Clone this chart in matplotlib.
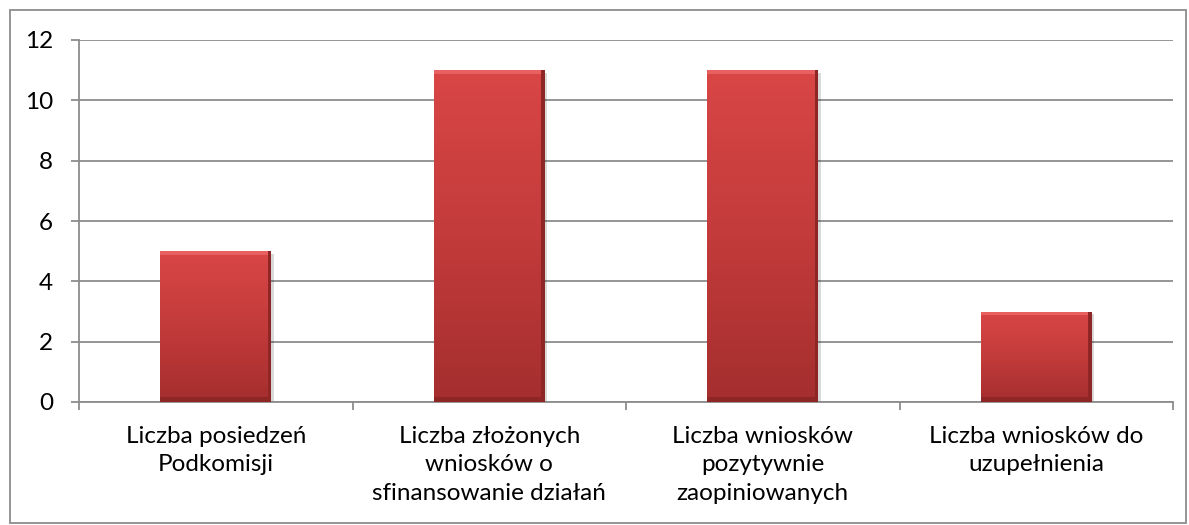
import matplotlib.pyplot as plt
import numpy as np
from matplotlib.colors import LinearSegmentedColormap
from matplotlib.patches import Rectangle

categories = ['Liczba posiedzeń\nPodkomisji',
              'Liczba złożonych\nwniosków o\nsfinansowanie działań',
              'Liczba wniosków\npozytywnie\nzaopiniowanych',
              'Liczba wniosków do\nuzupełnienia']
values = [5, 11, 11, 3]
yticks = [0, 2, 4, 6, 8, 10, 12]

plt.rcParams['font.family'] = ['Lato', 'DejaVu Sans']

fig = plt.figure(figsize=(11.89, 5.25), dpi=100)
ax = fig.add_axes([79 / 1189, 1 - 402 / 525, (1173 - 79) / 1189, (402 - 40) / 525])

# outer frame
fig.patches.append(Rectangle((10 / 1189, 2 / 525), 1176 / 1189, 513 / 525,
                             transform=fig.transFigure, fill=False,
                             edgecolor='#8c8c8c', lw=1.3))

x = np.arange(len(values))
w = 0.405
cmap = LinearSegmentedColormap.from_list('red', ['#a52e2e', '#c33b3b', '#d94646'])
grad = np.linspace(0, 1, 256).reshape(-1, 1)

for xi, v in zip(x, values):
    # shadow
    ax.add_patch(Rectangle((xi - w / 2 + 0.01, -0.08), w, v, color='#000000',
                           alpha=0.15, lw=0, zorder=2))
    bar = Rectangle((xi - w / 2, 0), w, v, facecolor='none', lw=0, zorder=3)
    ax.add_patch(bar)
    im = ax.imshow(grad, cmap=cmap, aspect='auto', origin='lower',
                   extent=[xi - w / 2, xi + w / 2, 0, v], zorder=3)
    im.set_clip_path(bar)
    # bevel edges
    ax.add_patch(Rectangle((xi - w / 2, v - 0.12), w, 0.12, color='#e86060',
                           lw=0, zorder=4))
    ax.add_patch(Rectangle((xi - w / 2, 0), w, 0.15, color='#8e2626',
                           lw=0, zorder=4))
    ax.add_patch(Rectangle((xi + w / 2 - 0.012, 0), 0.012, v, color='#8e2626',
                           lw=0, zorder=4))

ax.set_xlim(-0.5, len(values) - 0.5)
ax.set_ylim(0, 12)
ax.set_yticks(yticks)
ax.set_yticklabels([str(t) for t in yticks], fontsize=17.5)
ax.set_xticks(x)
ax.set_xticklabels(categories, fontsize=17.5, linespacing=1.45)
ax.tick_params(axis='x', length=0, pad=17)
ax.set_xticks(np.arange(-0.5, len(values)), minor=True)
ax.tick_params(axis='x', which='minor', length=5.8, color='#8c8c8c', width=1.3)
ax.tick_params(axis='y', length=5.8, color='#8c8c8c', width=1.3, pad=13)

ax.yaxis.grid(True, color='#8c8c8c', lw=1.3)
ax.set_axisbelow(True)
for s in ['top', 'right']:
    ax.spines[s].set_visible(False)
for s in ['left', 'bottom']:
    ax.spines[s].set_color('#8c8c8c')
    ax.spines[s].set_linewidth(1.3)

fig.savefig('out.png', dpi=100)
